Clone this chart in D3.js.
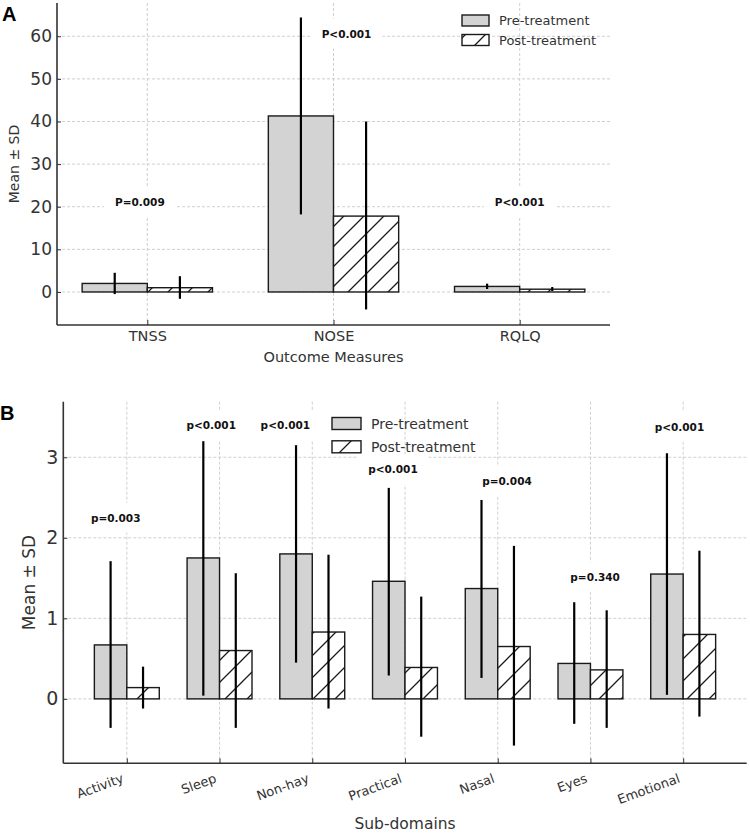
<!DOCTYPE html>
<html>
<head>
<meta charset="utf-8">
<script src="https://cdn.jsdelivr.net/npm/d3@7/dist/d3.min.js"></script>
<style>
    body { margin: 0; background: #ffffff; }
    svg { display: block; font-family: 'DejaVu Sans', sans-serif; }
</style>
</head>
<body>
<div id="chart"></div>
<script>
// Panel A: outcome measures
const outcomeCategories = ['TNSS', 'NOSE', 'RQLQ'];
const outcomePreMean = [2.0, 41.3, 1.3];
const outcomePreLow = [-0.5, 18.2, 0.7];
const outcomePreHigh = [4.5, 64.4, 1.95];
const outcomePostMean = [1.0, 17.8, 0.65];
const outcomePostLow = [-1.6, -4.1, 0.23];
const outcomePostHigh = [3.7, 40.0, 1.17];
const outcomePLabels = ['P=0.009', 'P<0.001', 'P<0.001'];
const outcomePAt = [-0.04, 1.07, 2.0];
const outcomePLevel = [21.0, 60.6, 21.0];
const outcomeTicks = [0, 10, 20, 30, 40, 50, 60];

// Panel B: RQLQ sub-domains
const domainCategories = ['Activity', 'Sleep', 'Non-hay', 'Practical', 'Nasal', 'Eyes', 'Emotional'];
const domainPreMean = [0.67, 1.75, 1.80, 1.46, 1.37, 0.44, 1.55];
const domainPreLow = [-0.36, 0.04, 0.45, 0.29, 0.26, -0.31, 0.05];
const domainPreHigh = [1.71, 3.20, 3.15, 2.62, 2.47, 1.20, 3.05];
const domainPostMean = [0.14, 0.60, 0.83, 0.39, 0.65, 0.36, 0.80];
const domainPostLow = [-0.12, -0.36, -0.12, -0.47, -0.58, -0.36, -0.22];
const domainPostHigh = [0.40, 1.56, 1.79, 1.27, 1.90, 1.10, 1.84];
const domainPLabels = ['p=0.003', 'p<0.001', 'p<0.001', 'p<0.001', 'p=0.004', 'p=0.340', 'p<0.001'];
const domainPAt = [-0.12, 0.91, 1.71, 2.87, 4.10, 5.05, 5.96];
const domainPLevel = [2.25, 3.40, 3.40, 2.85, 2.70, 1.51, 3.38];
const domainTicks = [0, 1, 2, 3];

const seriesNames = ['Pre-treatment', 'Post-treatment'];

const BAR_WIDTH = 0.35;
const TEXT_COLOR = '#333333';
const PRE_FILL = '#d3d3d3';
const EDGE_COLOR = '#1a1a1a';
const GRID_COLOR = '#c9c9c9';

const svg = d3.select('#chart')
    .append('svg')
    .attr('width', 750)
    .attr('height', 834);

const defs = svg.append('defs');

function addHatch(id, size) {
    const pattern = defs.append('pattern')
        .attr('id', id)
        .attr('patternUnits', 'userSpaceOnUse')
        .attr('width', size)
        .attr('height', size);

    pattern.append('rect')
        .attr('width', size)
        .attr('height', size)
        .attr('fill', '#ffffff');

    pattern.append('path')
        .attr('d', `M0,${size} L${size},0 M-2,2 L2,-2 M${size - 2},${size + 2} L${size + 2},${size - 2}`)
        .attr('stroke', EDGE_COLOR)
        .attr('stroke-width', 1.3);
}

addHatch('hatch-a', 20);
addHatch('hatch-b', 22);

function buildRows(categories, preMean, preLow, preHigh, postMean, postLow, postHigh) {
    return categories.map((name, index) => ({
        name,
        index,
        pre: { mean: preMean[index], low: preLow[index], high: preHigh[index] },
        post: { mean: postMean[index], low: postLow[index], high: postHigh[index] }
    }));
}

function renderPanel(options) {
    const {
        rows, ticks, pLabels, pAt, pLevel, frame, yDomain, hatchId,
        yTickSize, xTickSize, labelSize, yLabelSize, rotateTicks,
        xLabel, xLabelY, yLabelX, panelLetter, letterPos, legend
    } = options;

    const group = svg.append('g');

    const span = rows.length - 1 + 2 * BAR_WIDTH;
    const xScale = d3.scaleLinear()
        .domain([-BAR_WIDTH - 0.05 * span, rows.length - 1 + BAR_WIDTH + 0.05 * span])
        .range([frame.left, frame.right]);

    const yScale = d3.scaleLinear()
        .domain(yDomain)
        .range([frame.bottom, frame.top]);

    // grid
    group.append('g')
        .selectAll('line')
        .data(ticks)
        .join('line')
        .attr('x1', frame.left)
        .attr('x2', frame.right)
        .attr('y1', (tick) => yScale(tick))
        .attr('y2', (tick) => yScale(tick))
        .attr('stroke', GRID_COLOR)
        .attr('stroke-width', 0.9)
        .attr('stroke-dasharray', '3,2');

    group.append('g')
        .selectAll('line')
        .data(rows)
        .join('line')
        .attr('x1', (row) => xScale(row.index))
        .attr('x2', (row) => xScale(row.index))
        .attr('y1', frame.top)
        .attr('y2', frame.bottom)
        .attr('stroke', GRID_COLOR)
        .attr('stroke-width', 0.9)
        .attr('stroke-dasharray', '3,2');

    // bars
    const barWidth = xScale(BAR_WIDTH) - xScale(0);

    group.append('g')
        .selectAll('rect')
        .data(rows)
        .join('rect')
        .attr('x', (row) => xScale(row.index - BAR_WIDTH))
        .attr('y', (row) => yScale(row.pre.mean))
        .attr('width', barWidth)
        .attr('height', (row) => yScale(0) - yScale(row.pre.mean))
        .attr('fill', PRE_FILL)
        .attr('stroke', EDGE_COLOR)
        .attr('stroke-width', 1.4);

    group.append('g')
        .selectAll('rect')
        .data(rows)
        .join('rect')
        .attr('x', (row) => xScale(row.index))
        .attr('y', (row) => yScale(row.post.mean))
        .attr('width', barWidth)
        .attr('height', (row) => yScale(0) - yScale(row.post.mean))
        .attr('fill', `url(#${hatchId})`)
        .attr('stroke', EDGE_COLOR)
        .attr('stroke-width', 1.4);

    // error bars
    const errors = rows.flatMap((row) => [
        { at: row.index - BAR_WIDTH / 2, ...row.pre },
        { at: row.index + BAR_WIDTH / 2, ...row.post }
    ]);

    group.append('g')
        .selectAll('line')
        .data(errors)
        .join('line')
        .attr('x1', (datum) => xScale(datum.at))
        .attr('x2', (datum) => xScale(datum.at))
        .attr('y1', (datum) => yScale(datum.low))
        .attr('y2', (datum) => yScale(datum.high))
        .attr('stroke', '#000000')
        .attr('stroke-width', 2.2);

    // axes
    const yAxis = group.append('g')
        .attr('transform', `translate(${frame.left},0)`)
        .call(d3.axisLeft(yScale)
            .tickValues(ticks)
            .tickFormat(d3.format('d'))
            .tickSizeInner(-4)
            .tickSizeOuter(0)
            .tickPadding(5));

    yAxis.select('.domain')
        .attr('d', `M0,${frame.top}V${frame.bottom}`)
        .attr('stroke', TEXT_COLOR)
        .attr('stroke-width', 1.6);
    yAxis.selectAll('.tick line').attr('stroke', TEXT_COLOR);
    yAxis.selectAll('text')
        .attr('fill', TEXT_COLOR)
        .style('font-size', `${yTickSize}px`)
        .style('font-family', 'DejaVu Sans');

    const xAxis = group.append('g')
        .attr('transform', `translate(0,${frame.bottom})`)
        .call(d3.axisBottom(xScale)
            .tickValues(rows.map((row) => row.index))
            .tickFormat((value) => rows[value].name)
            .tickSizeInner(-5)
            .tickSizeOuter(0)
            .tickPadding(6));

    xAxis.select('.domain')
        .attr('d', `M${frame.left},0H${frame.right}`)
        .attr('stroke', TEXT_COLOR)
        .attr('stroke-width', 1.6);
    xAxis.selectAll('.tick line').attr('stroke', TEXT_COLOR);
    xAxis.selectAll('text')
        .attr('fill', TEXT_COLOR)
        .style('font-size', `${xTickSize}px`)
        .style('font-family', 'DejaVu Sans');

    if (rotateTicks) {
        xAxis.selectAll('text')
            .attr('x', 0)
            .attr('y', 0)
            .attr('dy', '0.71em')
            .attr('text-anchor', 'end')
            .attr('transform', 'translate(-6,10) rotate(-20)');
    }

    group.append('text')
        .attr('x', (frame.left + frame.right) / 2)
        .attr('y', xLabelY)
        .attr('text-anchor', 'middle')
        .attr('fill', TEXT_COLOR)
        .style('font-size', `${labelSize}px`)
        .text(xLabel);

    group.append('text')
        .attr('transform', `translate(${yLabelX},${(frame.top + frame.bottom) / 2}) rotate(-90)`)
        .attr('text-anchor', 'middle')
        .attr('dominant-baseline', 'central')
        .attr('fill', TEXT_COLOR)
        .style('font-size', `${yLabelSize}px`)
        .text('Mean ± SD');

    // p-value annotations with white boxes
    const notes = group.append('g')
        .selectAll('g')
        .data(pLabels.map((label, index) => ({ label, at: pAt[index], level: pLevel[index] })))
        .join('g')
        .attr('transform', (datum) => `translate(${xScale(datum.at)},${yScale(datum.level)})`);

    notes.append('text')
        .attr('text-anchor', 'middle')
        .attr('dominant-baseline', 'central')
        .attr('fill', '#111111')
        .style('font-size', '10.5px')
        .style('font-weight', 'bold')
        .text((datum) => datum.label);

    notes.each(function addBox() {
        const box = d3.select(this).select('text').node().getBBox();
        d3.select(this).insert('rect', 'text')
            .attr('x', box.x - 11)
            .attr('y', box.y - 9)
            .attr('width', box.width + 22)
            .attr('height', box.height + 18)
            .attr('fill', '#ffffff');
    });

    // legend
    const legendGroup = group.append('g');
    seriesNames.forEach((name, index) => {
        const rowY = legend.y + index * legend.step;
        legendGroup.append('rect')
            .attr('x', legend.x)
            .attr('y', rowY - legend.boxHeight / 2)
            .attr('width', legend.boxWidth)
            .attr('height', legend.boxHeight)
            .attr('fill', index === 0 ? PRE_FILL : `url(#${hatchId})`)
            .attr('stroke', EDGE_COLOR)
            .attr('stroke-width', 1.4);

        legendGroup.append('text')
            .attr('x', legend.x + legend.boxWidth + 10)
            .attr('y', rowY)
            .attr('dominant-baseline', 'central')
            .attr('fill', TEXT_COLOR)
            .style('font-size', `${legend.fontSize}px`)
            .text(name);
    });

    group.append('text')
        .attr('x', letterPos[0])
        .attr('y', letterPos[1])
        .attr('fill', '#000000')
        .style('font-size', '20px')
        .style('font-weight', 'bold')
        .style('font-family', 'Liberation Sans, Arial, sans-serif')
        .text(panelLetter);
}

renderPanel({
    rows: buildRows(outcomeCategories, outcomePreMean, outcomePreLow, outcomePreHigh, outcomePostMean, outcomePostLow, outcomePostHigh),
    ticks: outcomeTicks,
    pLabels: outcomePLabels,
    pAt: outcomePAt,
    pLevel: outcomePLevel,
    frame: { left: 57, right: 610, top: 3, bottom: 325 },
    yDomain: [-7.75, 67.8],
    hatchId: 'hatch-a',
    yTickSize: 17,
    xTickSize: 14.5,
    labelSize: 14.5,
    yLabelSize: 14,
    rotateTicks: false,
    xLabel: 'Outcome Measures',
    xLabelY: 362,
    yLabelX: 14,
    panelLetter: 'A',
    letterPos: [2, 21],
    legend: { x: 462, y: 20.5, step: 19.5, boxWidth: 27, boxHeight: 11, fontSize: 13 }
});

renderPanel({
    rows: buildRows(domainCategories, domainPreMean, domainPreLow, domainPreHigh, domainPostMean, domainPostLow, domainPostHigh),
    ticks: domainTicks,
    pLabels: domainPLabels,
    pAt: domainPAt,
    pLevel: domainPLevel,
    frame: { left: 63.3, right: 746.7, top: 401.7, bottom: 763.3 },
    yDomain: [-0.80, 3.69],
    hatchId: 'hatch-b',
    yTickSize: 19,
    xTickSize: 13,
    labelSize: 15.5,
    yLabelSize: 17,
    rotateTicks: true,
    xLabel: 'Sub-domains',
    xLabelY: 829,
    yLabelX: 29,
    panelLetter: 'B',
    letterPos: [0, 420],
    legend: { x: 332, y: 423.5, step: 23.3, boxWidth: 29, boxHeight: 12, fontSize: 14 }
});
</script>
</body>
</html>
